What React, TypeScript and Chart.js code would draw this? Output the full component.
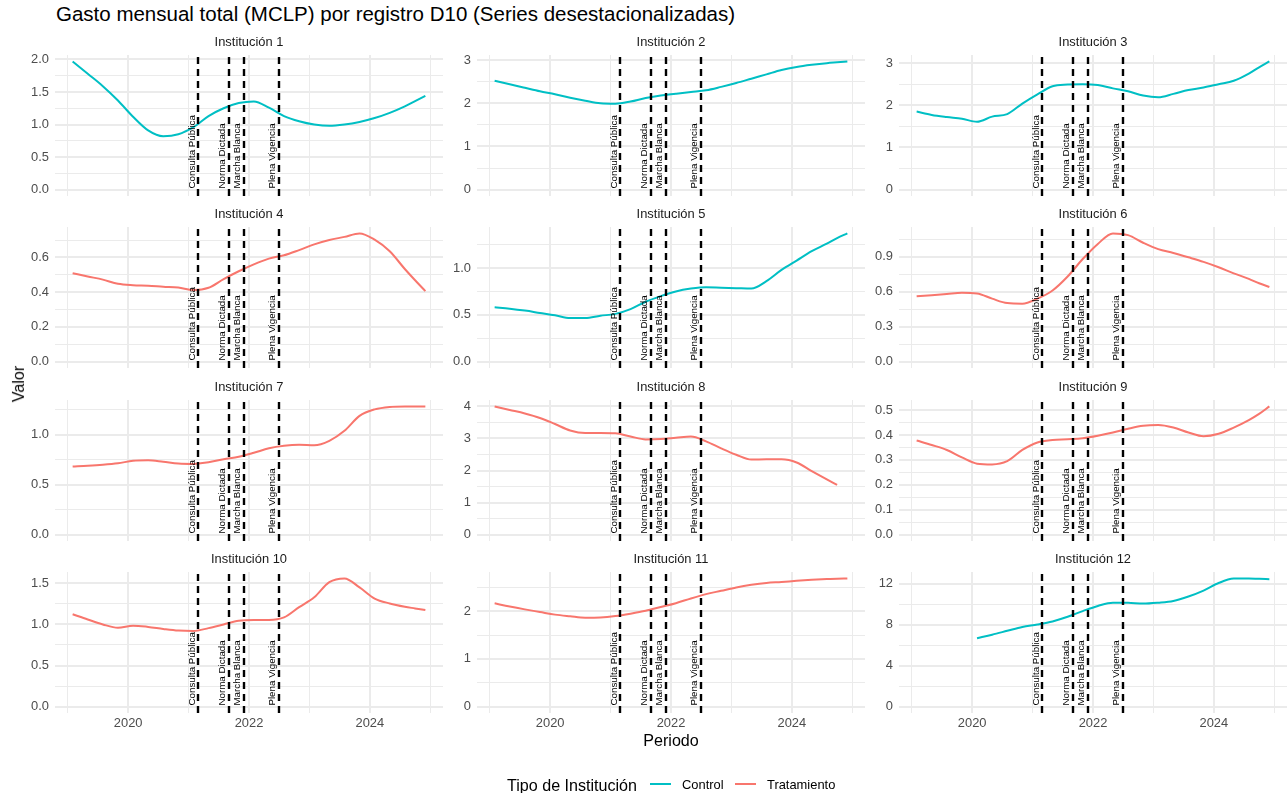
import React, { useEffect, useRef } from 'react';
import { Chart, registerables } from 'chart.js';

Chart.register(...registerables);

// ---------- DATA ----------
const periods = [
  2019.08, 2019.33, 2019.58, 2019.83, 2020.08, 2020.33, 2020.58, 2020.83,
  2021.08, 2021.33, 2021.58, 2021.83, 2022.08, 2022.33, 2022.58, 2022.83,
  2023.08, 2023.33, 2023.58, 2023.83, 2024.08, 2024.33, 2024.58, 2024.75, 2024.92,
];

const inst1 = [1.97, 1.78, 1.59, 1.37, 1.12, 0.91, 0.82, 0.85, 0.96, 1.13, 1.25, 1.33, 1.355, 1.26, 1.13, 1.05, 1.0, 0.98, 1.0, 1.04, 1.1, 1.18, 1.28, 1.36, 1.44];
const inst2 = [2.52, 2.44, 2.36, 2.28, 2.21, 2.13, 2.06, 2.0, 1.99, 2.04, 2.12, 2.18, 2.22, 2.26, 2.3, 2.38, 2.47, 2.57, 2.67, 2.77, 2.84, 2.89, 2.93, 2.95, 2.97];
const inst3 = [1.85, 1.77, 1.72, 1.68, 1.61, 1.73, 1.79, 2.04, 2.26, 2.45, 2.49, 2.5, 2.48, 2.4, 2.33, 2.23, 2.19, 2.27, 2.36, 2.42, 2.5, 2.58, 2.75, 2.9, 3.04];
const inst4 = [0.509, 0.49, 0.472, 0.448, 0.44, 0.437, 0.431, 0.426, 0.412, 0.425, 0.475, 0.52, 0.56, 0.593, 0.612, 0.642, 0.675, 0.7, 0.718, 0.738, 0.702, 0.635, 0.533, 0.468, 0.406];
const inst5 = [0.58, 0.565, 0.545, 0.52, 0.495, 0.465, 0.465, 0.49, 0.51, 0.56, 0.64, 0.7, 0.75, 0.78, 0.795, 0.79, 0.785, 0.78, 0.86, 0.98, 1.08, 1.18, 1.26, 1.32, 1.37];
const inst6 = [0.56, 0.57, 0.58, 0.59, 0.585, 0.54, 0.502, 0.497, 0.54, 0.61, 0.73, 0.88, 1.01, 1.1, 1.085, 1.02, 0.965, 0.932, 0.895, 0.856, 0.81, 0.757, 0.71, 0.672, 0.64];
const inst7 = [0.683, 0.69, 0.7, 0.715, 0.74, 0.745, 0.73, 0.712, 0.708, 0.725, 0.755, 0.78, 0.82, 0.865, 0.89, 0.9, 0.895, 0.94, 1.04, 1.19, 1.255, 1.28, 1.285, 1.285, 1.283];
const inst8 = [4.0, 3.89, 3.78, 3.64, 3.45, 3.25, 3.17, 3.17, 3.16, 3.06, 2.97, 2.98, 3.02, 3.06, 2.91, 2.69, 2.49, 2.34, 2.35, 2.35, 2.25, 1.98, 1.72, 1.55, null];
const inst9 = [0.378, 0.36, 0.34, 0.31, 0.285, 0.282, 0.295, 0.34, 0.37, 0.38, 0.383, 0.387, 0.397, 0.41, 0.425, 0.437, 0.44, 0.43, 0.41, 0.395, 0.405, 0.43, 0.46, 0.485, 0.515];
const inst10 = [1.124, 1.06, 1.0, 0.96, 0.985, 0.97, 0.945, 0.925, 0.92, 0.955, 1.0, 1.045, 1.055, 1.055, 1.085, 1.21, 1.33, 1.515, 1.56, 1.45, 1.315, 1.255, 1.215, 1.195, 1.175];
const inst11 = [2.167, 2.1, 2.04, 1.985, 1.93, 1.895, 1.865, 1.87, 1.9, 1.95, 2.01, 2.09, 2.17, 2.27, 2.36, 2.43, 2.5, 2.555, 2.595, 2.615, 2.64, 2.66, 2.675, 2.685, 2.69];
const inst12 = [null, null, null, null, 6.68, 7.02, 7.4, 7.78, 8.02, 8.32, 8.77, 9.33, 9.83, 10.15, 10.14, 10.06, 10.15, 10.32, 10.75, 11.33, 12.07, 12.5, 12.52, 12.48, 12.45];

const seriesValues = [inst1, inst2, inst3, inst4, inst5, inst6, inst7, inst8, inst9, inst10, inst11, inst12];

const institutionNames = [
  'Institución 1', 'Institución 2', 'Institución 3', 'Institución 4',
  'Institución 5', 'Institución 6', 'Institución 7', 'Institución 8',
  'Institución 9', 'Institución 10', 'Institución 11', 'Institución 12',
];

const institutionGroups = [
  'Control', 'Control', 'Control', 'Tratamiento', 'Control', 'Tratamiento',
  'Tratamiento', 'Tratamiento', 'Tratamiento', 'Tratamiento', 'Tratamiento', 'Control',
];

const yMajorSteps = [0.5, 1, 1, 0.2, 0.5, 0.3, 0.5, 1, 0.1, 0.5, 1, 4];

const xMajorTicks = [2020, 2022, 2024];

const eventDates = [2021.163, 2021.667, 2021.915, 2022.49];
const eventLabels = ['Consulta Pública', 'Norma Dictada', 'Marcha Blanca', 'Plena Vigencia'];

const groupNames = ['Control', 'Tratamiento'];
const groupColors = ['#00BFC4', '#F8766D'];

// ---------- LAYOUT / STYLE ----------
const FONT = '"Liberation Sans", Arial, sans-serif';
const PANEL_W = 388;
const PANEL_H = 141;
const COL_LEFT = [55, 477, 899];
const ROW_TOP = [55, 227, 400, 572];
const PAD_L = 48;
const PAD_T = 28;
const BOTTOM_H = 26;
const INNER_BOTTOM_H = 16;
const GRID = '#EBEBEB';

Chart.defaults.font.family = FONT;

const allX: number[] = [];
seriesValues.forEach((vals) => vals.forEach((v, i) => { if (v != null) allX.push(periods[i]); }));
const xDataMin = Math.min(...allX);
const xDataMax = Math.max(...allX);
const xMin = xDataMin - 0.05 * (xDataMax - xDataMin);
const xMax = xDataMax + 0.05 * (xDataMax - xDataMin);

const near = (a: number, b: number) => Math.abs(a - b) < 1e-6;

const facetPlugin = {
  id: 'facet',
  afterDatasetsDraw(chart: any, _args: any, opts: any) {
    const { ctx, chartArea: a } = chart;
    const x = chart.scales.x;
    const y = chart.scales.y;
    ctx.save();
    ctx.strokeStyle = '#000';
    ctx.lineWidth = 2.4;
    ctx.setLineDash([7, 5]);
    eventDates.forEach((d) => {
      const px = Math.round(x.getPixelForValue(d));
      ctx.beginPath();
      ctx.moveTo(px, a.bottom);
      ctx.lineTo(px, a.top);
      ctx.stroke();
    });
    ctx.setLineDash([]);
    const y0 = y.getPixelForValue(0);
    ctx.fillStyle = '#000';
    ctx.font = `9.8px ${FONT}`;
    eventDates.forEach((d, i) => {
      const px = x.getPixelForValue(d);
      ctx.save();
      ctx.translate(px - 3.6, y0 - 1);
      ctx.rotate(-Math.PI / 2);
      ctx.textAlign = 'left';
      ctx.textBaseline = 'alphabetic';
      ctx.fillText(eventLabels[i], 0, 0);
      ctx.restore();
    });
    ctx.fillStyle = '#1A1A1A';
    ctx.font = `12.9px ${FONT}`;
    ctx.textAlign = 'center';
    ctx.textBaseline = 'middle';
    ctx.fillText(opts.title, (a.left + a.right) / 2, a.top - 12.5);
    ctx.restore();
  },
};

function Panel({ index }: { index: number }) {
  const ref = useRef<HTMLCanvasElement>(null);
  const row = Math.floor(index / 3);
  const col = index % 3;
  const isBottom = row === 3;
  const bottomH = isBottom ? BOTTOM_H : INNER_BOTTOM_H;
  const w = PAD_L + PANEL_W;
  const h = PAD_T + PANEL_H + bottomH;

  useEffect(() => {
    const values = seriesValues[index];
    const present = values.filter((v) => v != null) as number[];
    const maxV = Math.max(0, ...present);
    const minV = Math.min(0, ...present);
    const yMin = minV - 0.05 * (maxV - minV);
    const yMax = maxV + 0.05 * (maxV - minV);
    const major = yMajorSteps[index];
    const minor = major / 2;
    const decimals = major < 1 ? 1 : 0;
    const yTicks: number[] = [];
    for (let k = Math.ceil(yMin / minor - 1e-9); k * minor <= yMax + 1e-9; k++) yTicks.push(+(k * minor).toFixed(6));
    const isYMajor = (v: number) => near(v / major, Math.round(v / major));
    const xTicks: number[] = [];
    for (let yr = Math.ceil(xMin); yr <= Math.floor(xMax); yr++) xTicks.push(yr);
    const isXMajor = (v: number) => xMajorTicks.includes(v);
    const color = groupColors[groupNames.indexOf(institutionGroups[index])];

    const chart = new Chart(ref.current as HTMLCanvasElement, {
      type: 'line',
      data: {
        datasets: [
          {
            label: institutionGroups[index],
            data: periods.map((p, i) => ({ x: p, y: values[i] })) as any,
            borderColor: color,
            borderWidth: 2,
            pointRadius: 0,
            fill: false,
            spanGaps: false,
            cubicInterpolationMode: 'monotone',
          },
        ],
      },
      options: {
        animation: false,
        responsive: false,
        events: [],
        layout: { padding: { top: PAD_T, left: 0, right: 0, bottom: 0 } },
        plugins: {
          legend: { display: false },
          tooltip: { enabled: false },
          facet: { title: institutionNames[index] },
        } as any,
        scales: {
          x: {
            type: 'linear',
            min: xMin,
            max: xMax,
            bounds: 'data',
            afterBuildTicks: (s: any) => { s.ticks = xTicks.map((v) => ({ value: v })); },
            afterFit: (s: any) => { s.height = bottomH; },
            border: { display: false },
            grid: {
              color: GRID,
              lineWidth: (c: any) => (c.tick && isXMajor(c.tick.value) ? 2 : 1),
              drawTicks: false,
            },
            ticks: {
              display: isBottom,
              autoSkip: false,
              maxRotation: 0,
              padding: 3,
              color: '#4D4D4D',
              font: { size: 12.9, family: FONT },
              callback: (v: any) => (isXMajor(Number(v)) ? String(v) : ''),
            },
          },
          y: {
            type: 'linear',
            min: yMin,
            max: yMax,
            bounds: 'data',
            afterBuildTicks: (s: any) => { s.ticks = yTicks.map((v) => ({ value: v })); },
            afterFit: (s: any) => { s.width = PAD_L; },
            border: { display: false },
            grid: {
              color: GRID,
              lineWidth: (c: any) => (c.tick && isYMajor(c.tick.value) ? 2 : 1),
              drawTicks: false,
            },
            ticks: {
              autoSkip: false,
              padding: 6,
              color: '#4D4D4D',
              font: { size: 12.9, family: FONT },
              callback: (v: any) => (isYMajor(Number(v)) ? Number(v).toFixed(decimals) : ''),
            },
          },
        },
      } as any,
      plugins: [facetPlugin],
    });
    return () => chart.destroy();
  }, [index]);

  return (
    <canvas
      ref={ref}
      width={w}
      height={h}
      style={{ position: 'absolute', left: COL_LEFT[col] - PAD_L, top: ROW_TOP[row] - PAD_T, width: w, height: h }}
    />
  );
}

const textBase: React.CSSProperties = {
  position: 'absolute',
  fontFamily: FONT,
  lineHeight: 1,
  whiteSpace: 'nowrap',
};

export default function App() {
  return (
    <div
      style={{
        position: 'absolute',
        left: 0,
        top: 0,
        width: 1287,
        height: 793,
        background: '#fff',
        overflow: 'hidden',
      }}
    >
      <div style={{ ...textBase, left: 56, top: 14, transform: 'translateY(-50%)', fontSize: 20.5, color: '#000' }}>
        Gasto mensual total (MCLP) por registro D10 (Series desestacionalizadas)
      </div>
      {seriesValues.map((_, i) => (
        <Panel key={i} index={i} />
      ))}
      <div style={{ ...textBase, left: 18, top: 384, transform: 'translate(-50%, -50%) rotate(-90deg)', fontSize: 16.1, color: '#000' }}>
        Valor
      </div>
      <div style={{ ...textBase, left: 671, top: 740, transform: 'translate(-50%, -50%)', fontSize: 16.1, color: '#000' }}>
        Periodo
      </div>
      <div style={{ ...textBase, left: 507, top: 784.5, transform: 'translateY(-50%)', fontSize: 16.1, color: '#000' }}>
        Tipo de Institución
      </div>
      <div style={{ position: 'absolute', left: 650, top: 783, width: 21, height: 2, background: groupColors[0] }} />
      <div style={{ ...textBase, left: 682, top: 784.5, transform: 'translateY(-50%)', fontSize: 12.9, color: '#000' }}>
        {groupNames[0]}
      </div>
      <div style={{ position: 'absolute', left: 735, top: 783, width: 21, height: 2, background: groupColors[1] }} />
      <div style={{ ...textBase, left: 767, top: 784.5, transform: 'translateY(-50%)', fontSize: 12.9, color: '#000' }}>
        {groupNames[1]}
      </div>
    </div>
  );
}
